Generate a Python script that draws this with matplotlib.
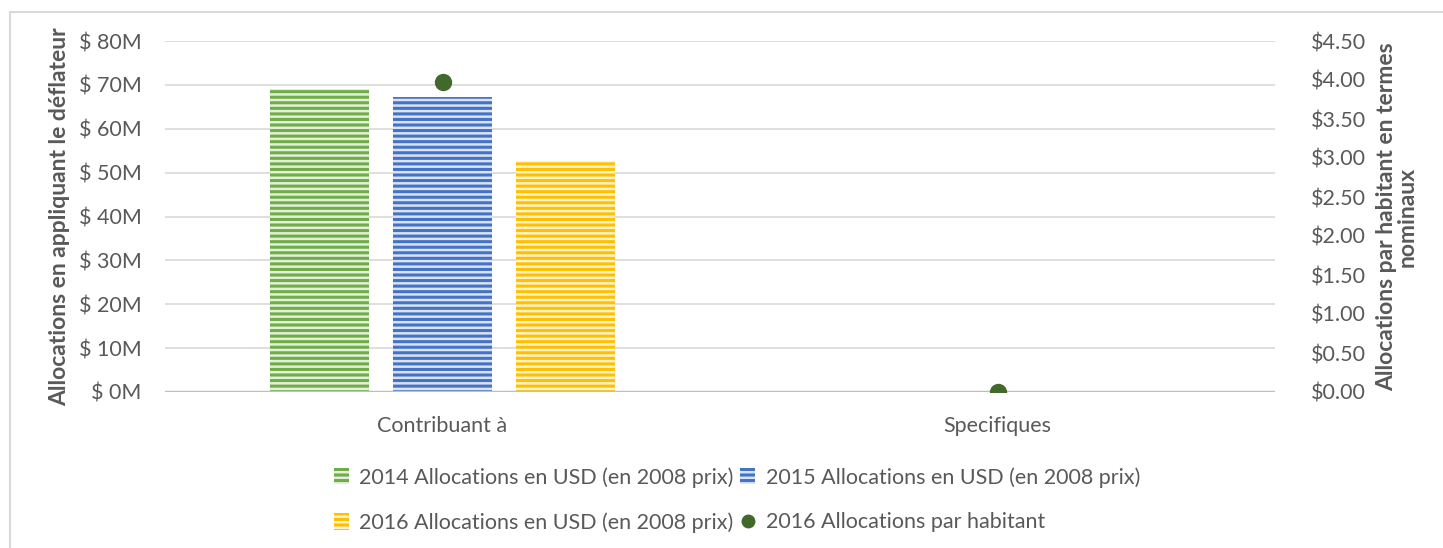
import matplotlib
matplotlib.use("Agg")
import matplotlib.pyplot as plt
import numpy as np
from matplotlib.lines import Line2D
from matplotlib.patches import Patch

categories = ["Contribuant à", "Specifiques"]
alloc_2014 = [69.1, 0.15]   # millions USD (2008 prices)
alloc_2015 = [67.2, 0.15]
alloc_2016 = [52.6, 0.15]
per_capita_2016 = [3.97, 0.0]

series_labels = ["2014 Allocations en USD (en 2008 prix)",
                 "2015 Allocations en USD (en 2008 prix)",
                 "2016 Allocations en USD (en 2008 prix)",
                 "2016 Allocations par habitant"]
left_ticks = [0, 10, 20, 30, 40, 50, 60, 70, 80]
right_ticks = [0, 0.5, 1, 1.5, 2, 2.5, 3, 3.5, 4, 4.5]

plt.rcParams['font.family'] = ['Lato', 'DejaVu Sans']
plt.rcParams['hatch.linewidth'] = 2.2
txt = '#595959'
W, H = 1443, 548
fig = plt.figure(figsize=(W / 100, H / 100), dpi=100)
ax = fig.add_axes([165 / W, 1 - 392 / H, 1110 / W, 351 / H])
ax2 = ax.twinx()

x = np.arange(len(categories))
bw = 0.177
step = 0.2216
colors = ['#70ad47', '#4472c4', '#ffc000']
lights = ['#e2efda', '#dae3f3', '#fff2cc']
for i, (vals, c, lc) in enumerate(zip([alloc_2014, alloc_2015, alloc_2016], colors, lights)):
    ax.bar(x + (i - 1) * step, vals, bw, facecolor=lc, edgecolor=c, hatch='---',
           linewidth=0, zorder=3)

ax.set_xlim(-0.5, 1.5)
ax.set_ylim(0, 80)
ax.set_yticks(left_ticks)
ax.set_yticklabels([f"$ {t}M" for t in left_ticks])
ax.set_xticks(x)
ax.set_xticklabels(categories)
ax.grid(axis='y', color='#d9d9d9', linewidth=1.2, zorder=0)
ax.set_axisbelow(True)
for a in (ax, ax2):
    for s in a.spines.values():
        s.set_visible(False)
    a.tick_params(length=0, labelsize=15.5, colors=txt)
ax.tick_params(axis='y', pad=17)
ax.tick_params(axis='x', pad=17)
ax.axhline(0, color='#bfbfbf', linewidth=2.5, zorder=4)

ax2.plot(x, per_capita_2016, 'o', color='#43682b', markersize=11.5, zorder=5)
ax2.set_ylim(0, 4.5)
ax2.set_yticks(right_ticks)
ax2.set_yticklabels([f"${t:.2f}" for t in right_ticks])
ax2.tick_params(axis='y', pad=26)

ax.set_ylabel("Allocations en appliquant le déflateur", fontsize=16.5, fontweight='bold',
              color=txt, labelpad=6)
ax2.set_ylabel("Allocations par habitant en termes\nnominaux", fontsize=16.5, fontweight='bold',
               color=txt, labelpad=7, linespacing=1.0)

handles = [Patch(facecolor=lights[i], edgecolor=colors[i], hatch='---', linewidth=0)
           for i in range(3)]
handles.append(Line2D([], [], marker='o', color='#43682b', linestyle='none', markersize=9))
order = [0, 2, 1, 3]
leg = fig.legend([handles[i] for i in order], [series_labels[i] for i in order],
                 loc='center', bbox_to_anchor=(737 / W, 1 - 500 / H),
                 ncol=2, frameon=False, fontsize=15.5, labelcolor=txt, handlelength=0.7,
                 handleheight=0.8, handletextpad=0.5, columnspacing=0.3, labelspacing=1.15)

fig.add_artist(Line2D([9.5 / W, 9.5 / W], [0, 1 - 11.5 / H], transform=fig.transFigure,
                      color='#d9d9d9', linewidth=1.5))
fig.add_artist(Line2D([9.5 / W, 1], [1 - 11.5 / H, 1 - 11.5 / H], transform=fig.transFigure,
                      color='#d9d9d9', linewidth=1.5))
fig.savefig("out.png", dpi=100, facecolor='white')
